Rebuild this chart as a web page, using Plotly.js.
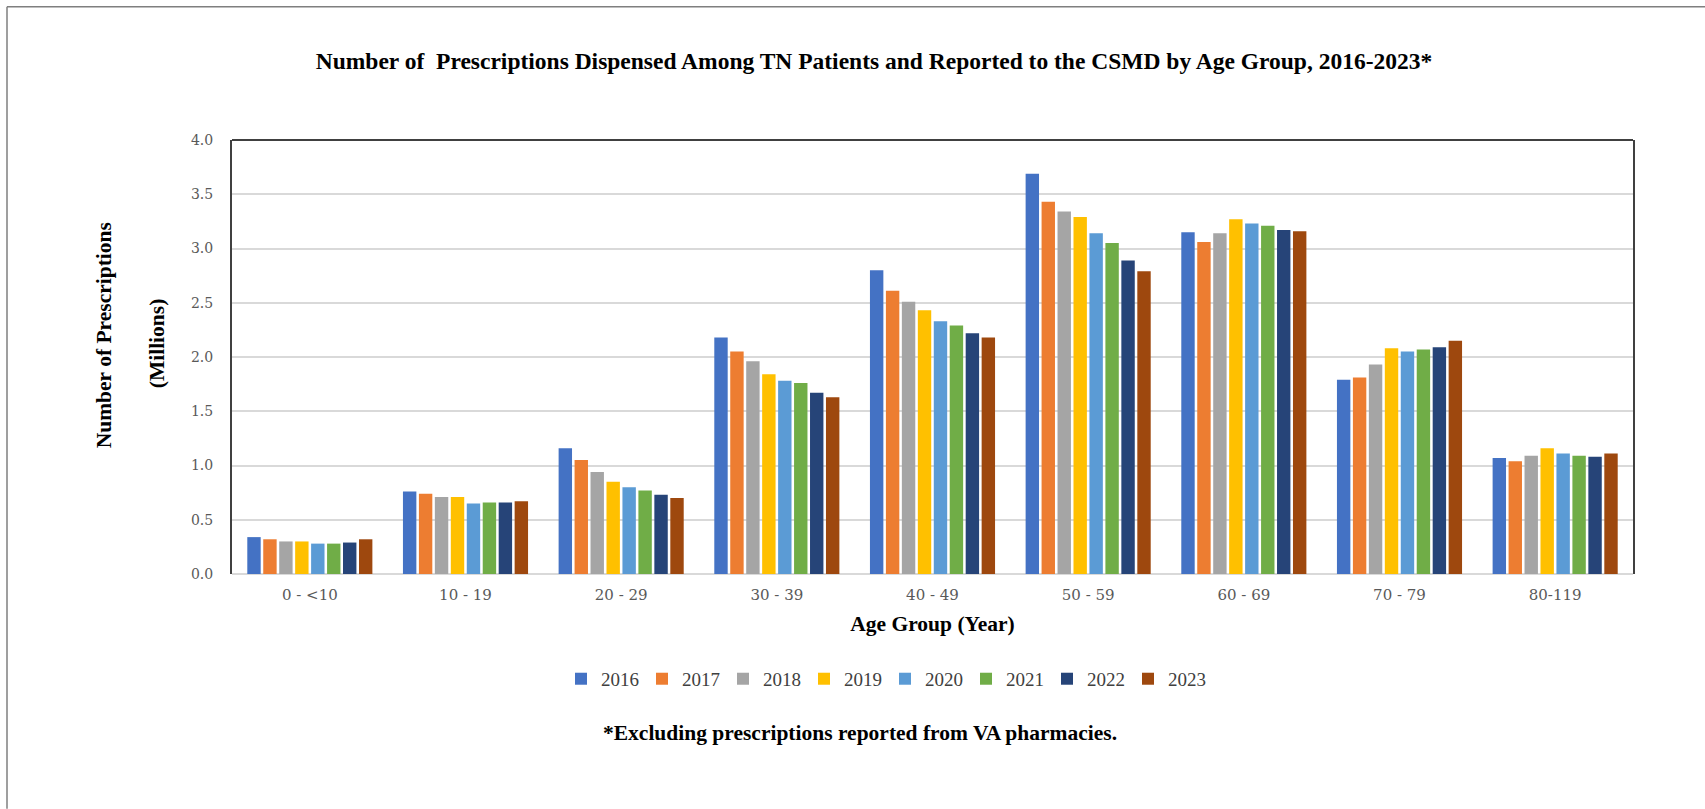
<!DOCTYPE html>
<html>
<head>
<meta charset="utf-8">
<script src="https://cdn.plot.ly/plotly-3.0.1.min.js"></script>
<style>html,body{margin:0;padding:0;background:#fff;}#chart{width:1705px;height:809px;}</style>
</head>
<body>
<div id="chart"></div>
<script>
const categories = ["0 - <10", "10 - 19", "20 - 29", "30 - 39", "40 - 49", "50 - 59", "60 - 69", "70 - 79", "80-119"];
const years = ["2016", "2017", "2018", "2019", "2020", "2021", "2022", "2023"];
const colors = ["#4472C4", "#ED7D31", "#A5A5A5", "#FFC000", "#5B9BD5", "#70AD47", "#264478", "#9E480E"];

const v2016 = [0.34, 0.76, 1.16, 2.18, 2.80, 3.69, 3.15, 1.79, 1.07];
const v2017 = [0.32, 0.74, 1.05, 2.05, 2.61, 3.43, 3.06, 1.81, 1.04];
const v2018 = [0.30, 0.71, 0.94, 1.96, 2.51, 3.34, 3.14, 1.93, 1.09];
const v2019 = [0.30, 0.71, 0.85, 1.84, 2.43, 3.29, 3.27, 2.08, 1.16];
const v2020 = [0.28, 0.65, 0.80, 1.78, 2.33, 3.14, 3.23, 2.05, 1.11];
const v2021 = [0.28, 0.66, 0.77, 1.76, 2.29, 3.05, 3.21, 2.07, 1.09];
const v2022 = [0.29, 0.66, 0.73, 1.67, 2.22, 2.89, 3.17, 2.09, 1.08];
const v2023 = [0.32, 0.67, 0.70, 1.63, 2.18, 2.79, 3.16, 2.15, 1.11];

const seriesValues = [v2016, v2017, v2018, v2019, v2020, v2021, v2022, v2023];

const titleText = "Number of  Prescriptions Dispensed Among TN Patients and Reported to the CSMD by Age Group, 2016-2023*";
const xTitle = "Age Group (Year)";
const yTitle1 = "Number of Prescriptions";
const yTitle2 = "(Millions)";
const footnote = "*Excluding prescriptions reported from VA pharmacies.";

const traces = years.map((y, i) => ({
  type: "bar",
  name: y,
  x: categories,
  y: seriesValues[i],
  marker: {color: colors[i], line: {width: 0}},
  hoverinfo: "x+y+name"
}));

const serif = "Liberation Serif, Times New Roman, serif";
const tickFont = "DejaVu Serif, Georgia, serif";

const layout = {
  width: 1705,
  height: 809,
  paper_bgcolor: "#ffffff",
  plot_bgcolor: "#ffffff",
  margin: {l: 232, r: 72, t: 139.5, b: 235},
  barmode: "group",
  bargap: 0.18,
  bargroupgap: 0.16,
  title: {
    text: "<b>" + titleText + "</b>",
    font: {family: serif, size: 23.5, color: "#000000"},
    x: 874 / 1705, xanchor: "center",
    y: 1 - 61 / 809, yanchor: "middle"
  },
  xaxis: {
    type: "category",
    showgrid: false,
    showline: false,
    ticks: "",
    tickfont: {family: tickFont, size: 15, color: "#595959"},
    ticklabelstandoff: 10,
    title: {text: "<b>" + xTitle + "</b>", font: {family: serif, size: 21.5, color: "#000000"}, standoff: 12}
  },
  yaxis: {
    range: [0, 4],
    tick0: 0,
    dtick: 0.5,
    tickformat: ".1f",
    showgrid: true,
    gridcolor: "#d9d9d9",
    gridwidth: 2,
    zeroline: true,
    zerolinecolor: "#d9d9d9",
    zerolinewidth: 2,
    showline: true,
    mirror: true,
    linecolor: "#404040",
    linewidth: 2,
    ticks: "",
    ticklabelstandoff: 14,
    tickfont: {family: tickFont, size: 14, color: "#595959"}
  },
  legend: {
    orientation: "h",
    x: (885 - 232) / 1401, xanchor: "center",
    y: (574 - 679) / 434.5, yanchor: "middle",
    font: {family: serif, size: 19, color: "#404040"},
    entrywidth: 36,
    entrywidthmode: "pixels",
    itemwidth: 30,
    traceorder: "normal",
    itemclick: false
  },
  shapes: [
    {type: "line", xref: "paper", yref: "paper", x0: 0, x1: 1, y0: 1, y1: 1, line: {color: "#404040", width: 2}},
    {type: "line", xref: "paper", yref: "paper", x0: -225 / 1401, x1: 1473 / 1401, y0: (574 - 6) / 434.5, y1: (574 - 6) / 434.5, line: {color: "#7f7f7f", width: 1.5}},
    {type: "line", xref: "paper", yref: "paper", x0: -225 / 1401, x1: -225 / 1401, y0: (574 - 6) / 434.5, y1: (574 - 809) / 434.5, line: {color: "#7f7f7f", width: 1.5}}
  ],
  annotations: [
    {text: "<b>" + yTitle1 + "</b>", xref: "paper", yref: "paper", x: (104 - 232) / 1401, y: (574 - 335) / 434.5,
     xanchor: "center", yanchor: "middle", textangle: -90, showarrow: false,
     font: {family: serif, size: 21.5, color: "#000000"}},
    {text: "<b>" + yTitle2 + "</b>", xref: "paper", yref: "paper", x: (157 - 232) / 1401, y: (574 - 343) / 434.5,
     xanchor: "center", yanchor: "middle", textangle: -90, showarrow: false,
     font: {family: serif, size: 21.5, color: "#000000"}},
    {text: "<b>" + footnote + "</b>", xref: "paper", yref: "paper", x: (860 - 232) / 1401, y: (574 - 733) / 434.5,
     xanchor: "center", yanchor: "middle", showarrow: false,
     font: {family: serif, size: 21.5, color: "#000000"}}
  ]
};

Plotly.newPlot("chart", traces, layout, {displayModeBar: false, staticPlot: false});
</script>
</body>
</html>
